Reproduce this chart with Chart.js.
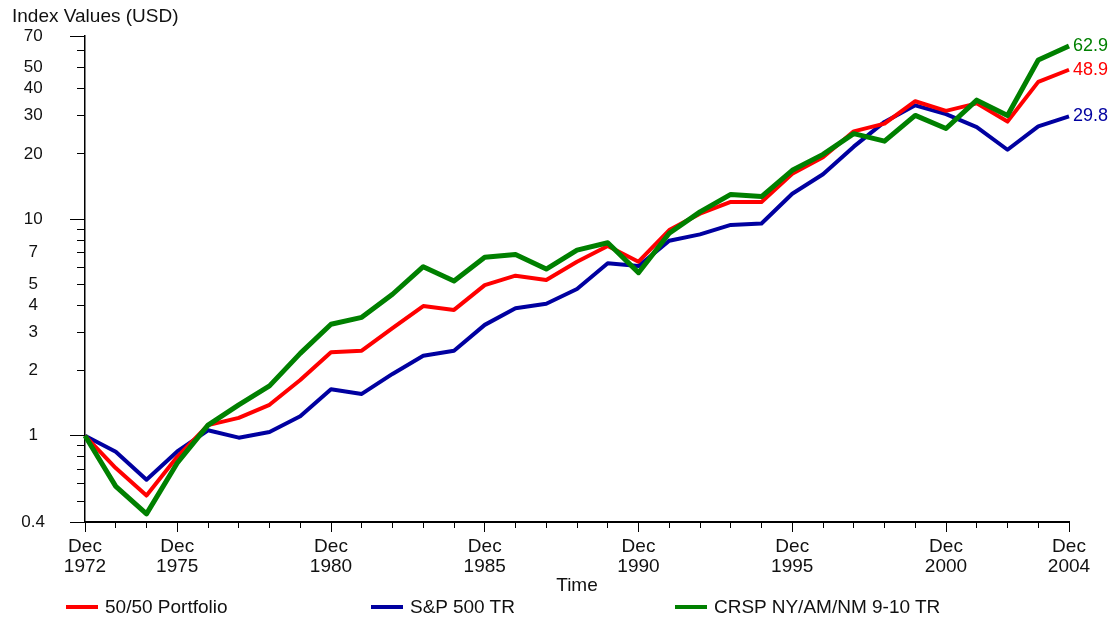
<!DOCTYPE html>
<html>
<head>
<meta charset="utf-8">
<script src="https://cdn.jsdelivr.net/npm/chart.js@4/dist/chart.umd.min.js"></script>
<style>
  body{margin:0;background:#fff;font-family:"Liberation Sans",Arial,sans-serif;}
  #wrap{position:relative;width:1112px;height:617px;}
  #ytitle{position:absolute;left:12px;top:5px;font-size:19px;color:#111;}
  .leg{position:absolute;top:596px;font-size:19px;line-height:22px;color:#111;white-space:nowrap;}
  .leg i{display:inline-block;width:32px;height:4px;vertical-align:middle;margin-right:7px;position:relative;top:-1px;}
</style>
</head>
<body>
<div id="wrap">
  <canvas id="c" width="1112" height="617"></canvas>
  <div id="ytitle">Index Values (USD)</div>
  <div class="leg" style="left:66px"><i style="background:#ff0000"></i>50/50 Portfolio</div>
  <div class="leg" style="left:371px"><i style="background:#0000a0"></i>S&amp;P 500 TR</div>
  <div class="leg" style="left:675px"><i style="background:#008000"></i>CRSP NY/AM/NM 9-10 TR</div>
</div>
<script>
// year-end index values, Dec 1972 = 1
const years = [1972,1973,1974,1975,1976,1977,1978,1979,1980,1981,1982,1983,1984,1985,1986,1987,1988,
  1989,1990,1991,1992,1993,1994,1995,1996,1997,1998,1999,2000,2001,2002,2003,2004];
const portfolio = [1,0.71,0.53,0.80,1.12,1.21,1.39,1.81,2.43,2.47,3.14,3.97,3.81,4.96,5.48,5.24,6.36,
  7.51,6.36,8.90,10.6,12.0,12.0,16.2,19.3,25.4,27.6,35.0,31.6,34.2,28.2,43.0,48.9];
const sp500 = [1,0.844,0.627,0.847,1.06,0.98,1.04,1.23,1.64,1.56,1.93,2.34,2.47,3.25,3.88,4.07,4.76,
  6.25,6.07,7.94,8.5,9.4,9.55,13.1,16.1,21.6,28.1,33.5,30.5,26.6,20.9,26.8,29.8];
const crsp = [1,0.584,0.436,0.749,1.12,1.39,1.70,2.40,3.27,3.52,4.50,6.03,5.18,6.66,6.87,5.88,7.19,
  7.78,5.66,8.60,10.8,13.0,12.7,16.8,19.9,24.8,22.9,30.1,26.2,35.4,30.1,54.2,62.9];

const xMajor = [1972,1975,1980,1985,1990,1995,2000,2004];
const yTicks = [0.4,0.5,0.6,0.7,0.8,0.9,1,2,3,4,5,6,7,8,9,10,20,30,40,50,60,70];
const yLabels = [0.4,1,2,3,4,5,7,10,20,30,40,50,70];
const yLong = [0.4,1,10,70];

const txt = "#111";
const fam = "'Liberation Sans', Arial, sans-serif";

// value label at the end of each line
const endLabels = {
  id:"endLabels",
  afterDatasetsDraw(chart){
    const ctx = chart.ctx;
    ctx.save();
    ctx.font = "18px " + fam;
    ctx.textBaseline = "middle";
    ctx.textAlign = "left";
    chart.data.datasets.forEach((ds,i)=>{
      const meta = chart.getDatasetMeta(i);
      const pt = meta.data[meta.data.length-1];
      ctx.fillStyle = ds.borderColor;
      ctx.fillText(ds.data[ds.data.length-1].toFixed(1), pt.x+4, pt.y);
    });
    ctx.restore();
  }
};

new Chart(document.getElementById("c"), {
  type:"line",
  data:{
    labels: years.map(String),
    datasets:[
      {label:"50/50 Portfolio", data:portfolio, borderColor:"#ff0000", borderWidth:4, order:1},
      {label:"S&P 500 TR", data:sp500, borderColor:"#0000a0", borderWidth:4, order:2},
      {label:"CRSP NY/AM/NM 9-10 TR", data:crsp, borderColor:"#008000", borderWidth:5, order:0}
    ]
  },
  options:{
    responsive:false,
    animation:false,
    layout:{padding:{top:36,right:43,left:0,bottom:20}},
    elements:{point:{radius:0}, line:{tension:0, borderJoinStyle:"round"}},
    plugins:{legend:{display:false}, tooltip:{enabled:false}},
    scales:{
      x:{
        type:"category",
        offset:false,
        afterFit: s => { s.height = 75; },
        border:{color:"#000", width:2},
        grid:{drawOnChartArea:false, tickLength:10, tickColor:"#000", tickWidth:1,
          tickBorderDash: c => (c.tick && xMajor.includes(+c.tick.label?.[1])) ? [] : [5,100]},
        ticks:{autoSkip:false, maxRotation:0, padding:5, color:txt, font:{family:fam, size:19, lineHeight:1.05},
          callback:(v,i)=> xMajor.includes(years[i]) ? ["Dec", String(years[i])] : ""},
        title:{display:true, text:"Time", color:txt, font:{family:fam, size:19, lineHeight:1.2}, padding:0}
      },
      y:{
        type:"logarithmic",
        min:0.4, max:70,
        afterFit: s => { s.width = 85; },
        afterBuildTicks: s => { s.ticks = yTicks.map(v=>({value:v})); },
        border:{color:"#000", width:1.5},
        grid:{drawOnChartArea:false, tickLength:15, tickColor:"#000", tickWidth:1,
          tickBorderDash: c => (c.tick && yLong.includes(c.tick.value)) ? [] : [0,7,8,100]},
        ticks:{padding:25, crossAlign:"center", color:txt, font:{family:fam, size:17}, autoSkip:false,
          callback: v => yLabels.includes(v) ? String(v) : ""}
      }
    }
  },
  plugins:[endLabels]
});
</script>
</body>
</html>
